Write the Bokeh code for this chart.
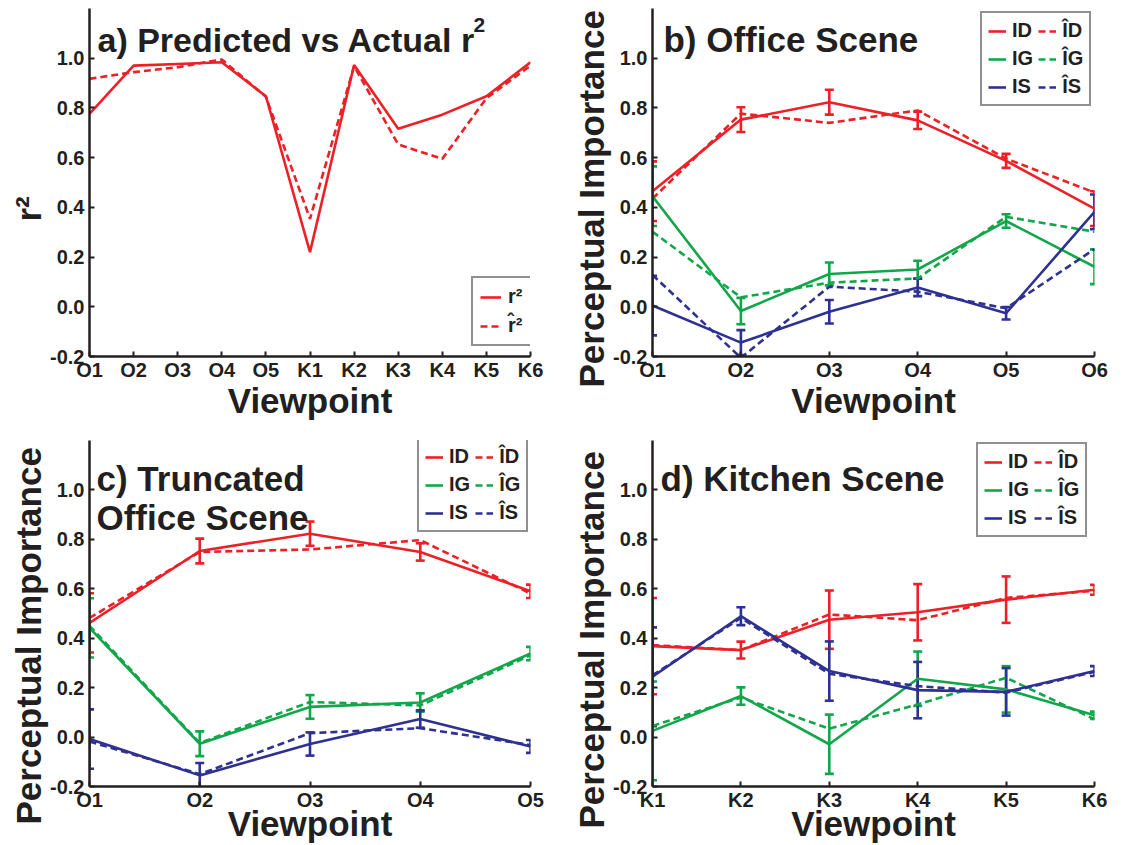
from bokeh.plotting import figure
from bokeh.models import (Range1d, FixedTicker, Label, Legend, LegendItem, Whisker,
                          TeeHead, ColumnDataSource, NumeralTickFormatter, Title)
from bokeh.layouts import gridplot
from bokeh.embed import file_html
from bokeh.resources import INLINE

# ---------------- data ----------------
views_all = ["O1", "O2", "O3", "O4", "O5", "K1", "K2", "K3", "K4", "K5", "K6"]
r2_actual = [0.776, 0.970, 0.977, 0.984, 0.847, 0.220, 0.973, 0.716, 0.773, 0.847, 0.984]
r2_pred = [0.917, 0.944, 0.964, 0.995, 0.845, 0.354, 0.968, 0.653, 0.595, 0.839, 0.970]

views_office = ["O1", "O2", "O3", "O4", "O5", "O6"]
office_ID = [0.465, 0.753, 0.823, 0.750, 0.587, 0.395]
office_ID_err = [0.12, 0.05, 0.05, 0.035, 0.028, 0.07]
office_ID_hat = [0.435, 0.777, 0.740, 0.790, 0.596, 0.460]
office_IG = [0.445, -0.017, 0.132, 0.150, 0.345, 0.161]
office_IG_err = [0.12, 0.053, 0.046, 0.035, 0.027, 0.07]
office_IG_hat = [0.302, 0.038, 0.097, 0.114, 0.362, 0.302]
office_IS = [0.005, -0.144, -0.020, 0.078, -0.026, 0.382]
office_IS_err = [0.12, 0.05, 0.047, 0.035, 0.025, 0.07]
office_IS_hat = [0.128, -0.205, 0.081, 0.061, -0.006, 0.232]

views_trunc = ["O1", "O2", "O3", "O4", "O5"]
trunc_ID = [0.462, 0.753, 0.823, 0.749, 0.590]
trunc_ID_err = [0.12, 0.05, 0.049, 0.035, 0.027]
trunc_ID_hat = [0.482, 0.749, 0.759, 0.797, 0.581]
trunc_IG = [0.442, -0.027, 0.122, 0.140, 0.338]
trunc_IG_err = [0.12, 0.05, 0.048, 0.037, 0.027]
trunc_IG_hat = [0.450, -0.024, 0.142, 0.128, 0.331]
trunc_IS = [-0.008, -0.155, -0.028, 0.073, -0.038]
trunc_IS_err = [0.12, 0.05, 0.047, 0.035, 0.026]
trunc_IS_hat = [-0.018, -0.150, 0.016, 0.036, -0.032]

views_kitchen = ["K1", "K2", "K3", "K4", "K5", "K6"]
kit_ID = [0.368, 0.352, 0.475, 0.505, 0.556, 0.596]
kit_ID_err = [0.195, 0.034, 0.118, 0.114, 0.094, 0.02]
kit_ID_hat = [0.372, 0.352, 0.496, 0.473, 0.563, 0.592]
kit_IG = [0.025, 0.166, -0.029, 0.236, 0.193, 0.088]
kit_IG_err = [0.2, 0.035, 0.12, 0.11, 0.094, 0.015]
kit_IG_hat = [0.045, 0.160, 0.034, 0.132, 0.240, 0.072]
kit_IS = [0.244, 0.489, 0.267, 0.190, 0.183, 0.267]
kit_IS_err = [0.2, 0.036, 0.12, 0.114, 0.096, 0.02]
kit_IS_hat = [0.250, 0.482, 0.256, 0.206, 0.180, 0.264]

y_ticks = [-0.2, 0.0, 0.2, 0.4, 0.6, 0.8, 1.0]

# ---------------- style ----------------
FONT = "Liberation Sans"
TXT = "#231f20"
RED = "#ec2027"
GREEN = "#12a64b"
BLUE = "#2e3192"
LW = 2.6
DASH = "7 4"
Y0, Y1 = -0.2, 1.2

# canvas geometry of each frame: (fig_x, fig_y, fig_w, fig_h, frame_left, frame_top, frame_w, frame_h)
GEO = {
    "a": (0, 0, 563, 422, 89, 8, 441, 349),
    "b": (563, 0, 564, 422, 651, 8, 443, 349),
    "c": (0, 422, 563, 423, 89, 440, 442, 350),
    "d": (563, 422, 564, 423, 652, 440, 442, 350),
}


def make_fig(key, cats, ylabel, ylabel_start, xl_standoff):
    fx, fy, fw, fh, l, t, w, h = GEO[key]
    p = figure(width=fw, height=fh, output_backend="svg", toolbar_location=None,
               x_range=Range1d(0, len(cats) - 1), y_range=Range1d(Y0, Y1),
               min_border_left=l - fx, min_border_right=fw - (l - fx) - w,
               min_border_top=t - fy, min_border_bottom=fh - (t - fy) - h,
               background_fill_color="white", border_fill_color="white")
    p.xgrid.visible = False
    p.ygrid.visible = False
    p.outline_line_color = None
    for ax in (p.xaxis[0], p.yaxis[0]):
        ax.axis_line_width = 2.5
        ax.axis_line_color = TXT
        ax.major_tick_in = 5
        ax.major_tick_out = 0
        ax.major_tick_line_width = 2
        ax.major_tick_line_color = TXT
        ax.minor_tick_line_color = None
        ax.major_label_text_font = FONT
        ax.major_label_text_font_style = "bold"
        ax.major_label_text_font_size = "20px"
        ax.major_label_text_color = TXT
        ax.axis_label_text_font = FONT
        ax.axis_label_text_font_style = "bold"
        ax.axis_label_text_font_size = "35px"
        ax.axis_label_text_color = TXT
    p.xaxis.ticker = FixedTicker(ticks=list(range(len(cats))))
    p.xaxis.major_label_overrides = {i: c for i, c in enumerate(cats)}
    p.xaxis.major_label_standoff = 2
    p.xaxis.axis_label = "Viewpoint"
    p.xaxis.axis_label_standoff = xl_standoff
    p.yaxis.ticker = FixedTicker(ticks=y_ticks)
    p.yaxis.formatter = NumeralTickFormatter(format="0.0")
    p.yaxis.major_label_standoff = 5
    # rotated y-axis title; it starts (bottom end) at canvas row ylabel_start
    frame_bottom = t + h
    p.add_layout(Title(text=ylabel, align="left", offset=frame_bottom - ylabel_start, standoff=0,
                       text_font=FONT, text_font_style="bold", text_font_size="35px",
                       text_color=TXT), "left")
    return p


def to_data(key, n, px, py):
    fx, fy, fw, fh, l, t, w, h = GEO[key]
    xd = (px - l) / w * (n - 1)
    yd = Y1 - (py - t) / h * (Y1 - Y0)
    return xd, yd


def add_text(p, key, n, px, py, text, size):
    xd, yd = to_data(key, n, px, py)
    p.add_layout(Label(x=xd, y=yd, text=text, text_font=FONT, text_font_style="bold",
                       text_font_size=size, text_color=TXT, text_align="left",
                       text_baseline="alphabetic"))


def add_series(p, vals, errs, hats, color):
    xs = list(range(len(vals)))
    rd = p.line(xs, hats, line_color=color, line_width=LW, line_dash=DASH)
    rs = p.line(xs, vals, line_color=color, line_width=LW)
    src = ColumnDataSource(dict(x=xs, up=[v + e for v, e in zip(vals, errs)],
                                lo=[v - e for v, e in zip(vals, errs)]))
    p.add_layout(Whisker(source=src, base="x", upper="up", lower="lo", dimension="height",
                         line_color=color, line_width=LW,
                         upper_head=TeeHead(size=9, line_color=color, line_width=LW),
                         lower_head=TeeHead(size=9, line_color=color, line_width=LW)))
    return rs, rd


def legend_style():
    return dict(label_text_font=FONT, label_text_font_style="bold", label_text_font_size="20px",
                label_text_color=TXT, glyph_height=20, label_height=20, margin=0,
                border_line_color=TXT, border_line_width=2, background_fill_color="white",
                background_fill_alpha=1.0)


def add_legend6(p, key, rends, box_left, box_bottom):
    fx, fy, fw, fh, l, t, w, h = GEO[key]
    (s1, d1), (s2, d2), (s3, d3) = rends
    items = [LegendItem(label="ID", renderers=[s1]),
             LegendItem(label="IG", renderers=[s2]),
             LegendItem(label="IS", renderers=[s3]),
             LegendItem(label="ÎD", renderers=[d1]),
             LegendItem(label="ÎG", renderers=[d2]),
             LegendItem(label="ÎS", renderers=[d3])]
    leg = Legend(items=items, location=(box_left - l, (t + h) - box_bottom), nrows=3,
                 orientation="vertical", glyph_width=18, label_standoff=6, spacing=5,
                 padding=6, **legend_style())
    p.add_layout(leg)


# ---------------- panel a ----------------
pa = make_fig("a", views_all, "r²", 222, -3)
xa = list(range(len(views_all)))
ra_s = pa.line(xa, r2_actual, line_color=RED, line_width=LW)
ra_d = pa.line(xa, r2_pred, line_color=RED, line_width=LW, line_dash=DASH)
na = len(views_all)
add_text(pa, "a", na, 97, 40, "a) Predicted vs Actual r", "34px")
add_text(pa, "a", na, 473, 25, "2", "21px")
leg_a = Legend(items=[LegendItem(label="r²", renderers=[ra_s]),
                      LegendItem(label="r\u0302²", renderers=[ra_d])],
               location=(471 - 89, 357 - 347), glyph_width=21, label_standoff=7,
               spacing=6, padding=7, **legend_style())
pa.add_layout(leg_a)

# ---------------- panel b ----------------
pb = make_fig("b", views_office, "Perceptual Importance", 388, -3)
rb = [add_series(pb, office_ID, office_ID_err, office_ID_hat, RED),
      add_series(pb, office_IG, office_IG_err, office_IG_hat, GREEN),
      add_series(pb, office_IS, office_IS_err, office_IS_hat, BLUE)]
add_text(pb, "b", len(views_office), 662, 39, "b) Office Scene", "35px")
add_legend6(pb, "b", rb, 979, 107)

# ---------------- panel c ----------------
pc = make_fig("c", views_trunc, "Perceptual Importance", 828, -10)
rc = [add_series(pc, trunc_ID, trunc_ID_err, trunc_ID_hat, RED),
      add_series(pc, trunc_IG, trunc_IG_err, trunc_IG_hat, GREEN),
      add_series(pc, trunc_IS, trunc_IS_err, trunc_IS_hat, BLUE)]
add_text(pc, "c", len(views_trunc), 96, 478, "c) Truncated", "35px")
add_text(pc, "c", len(views_trunc), 96, 518, "Office Scene", "35px")
add_legend6(pc, "c", rc, 417, 536)

# ---------------- panel d ----------------
pd_ = make_fig("d", views_kitchen, "Perceptual Importance", 832, -10)
rd = [add_series(pd_, kit_ID, kit_ID_err, kit_ID_hat, RED),
      add_series(pd_, kit_IG, kit_IG_err, kit_IG_hat, GREEN),
      add_series(pd_, kit_IS, kit_IS_err, kit_IS_hat, BLUE)]
add_text(pd_, "d", len(views_kitchen), 660, 478, "d) Kitchen Scene", "35px")
add_legend6(pd_, "d", rd, 976, 541)

grid = gridplot([[pa, pb], [pc, pd_]], toolbar_location=None)
open("out.html", "w").write(file_html(grid, INLINE))
